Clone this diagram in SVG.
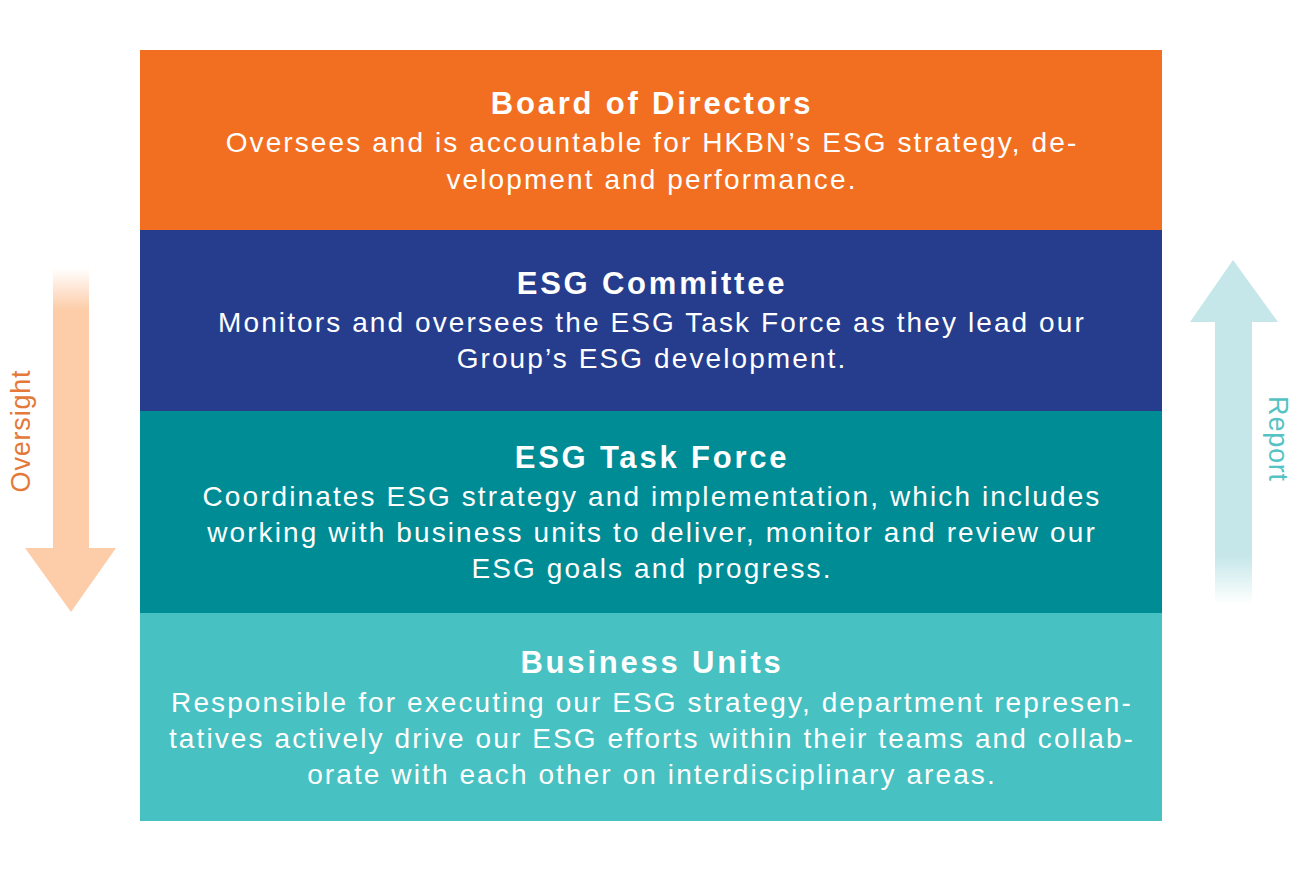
<svg xmlns="http://www.w3.org/2000/svg" width="1300" height="871" viewBox="0 0 1300 871">
<defs>
<linearGradient id="gDown" x1="0" y1="0" x2="0" y2="1" gradientUnits="objectBoundingBox">
<stop offset="0" stop-color="#FDCDAA" stop-opacity="0"/>
<stop offset="0.12" stop-color="#FDCDAA" stop-opacity="1"/>
<stop offset="1" stop-color="#FDCDAA" stop-opacity="1"/>
</linearGradient>
<linearGradient id="gUp" x1="0" y1="1" x2="0" y2="0" gradientUnits="objectBoundingBox">
<stop offset="0" stop-color="#C5E7E9" stop-opacity="0"/>
<stop offset="0.14" stop-color="#C5E7E9" stop-opacity="1"/>
<stop offset="1" stop-color="#C5E7E9" stop-opacity="1"/>
</linearGradient>
<style>
.t{font-family:"Liberation Sans",Arial,sans-serif;font-weight:bold;font-size:31px;letter-spacing:2.8px;fill:#fff;text-anchor:middle}
.b{font-family:"Liberation Sans",Arial,sans-serif;font-size:28px;letter-spacing:2.1px;fill:#fff;text-anchor:middle}
.side{font-family:"Liberation Sans",Arial,sans-serif;font-size:27px;letter-spacing:0.8px;text-anchor:middle}
</style>
</defs>
<rect width="1300" height="871" fill="#fff"/>
<g id="connectors">
<path d="M53,268 H89 V548 H116 L71,612 L25,548 H53 Z" fill="url(#gDown)"/>
<path d="M1233,260 L1278,322 H1252 V604 H1215 V322 H1190 Z" fill="url(#gUp)"/>
<text class="side" fill="#E4793A" transform="translate(30,431) rotate(-90)">Oversight</text>
<text class="side" fill="#55C2C4" transform="translate(1269,439) rotate(90)">Report</text>
</g>
<g id="board">
<rect x="140" y="50" width="1022" height="180" fill="#F26F21"/>
<text class="t" x="652" y="114">Board of Directors</text>
<text class="b" x="652" y="152">Oversees and is accountable for HKBN’s ESG strategy, de-</text>
<text class="b" x="652" y="189">velopment and performance.</text>
</g>
<g id="committee">
<rect x="140" y="230" width="1022" height="181" fill="#253D8C"/>
<text class="t" x="652" y="294">ESG Committee</text>
<text class="b" x="652" y="332">Monitors and oversees the ESG Task Force as they lead our</text>
<text class="b" x="652" y="368">Group’s ESG development.</text>
</g>
<g id="taskforce">
<rect x="140" y="411" width="1022" height="202" fill="#008C95"/>
<text class="t" x="652" y="468">ESG Task Force</text>
<text class="b" x="652" y="506">Coordinates ESG strategy and implementation, which includes</text>
<text class="b" x="652" y="542">working with business units to deliver, monitor and review our</text>
<text class="b" x="652" y="578">ESG goals and progress.</text>
</g>
<g id="units">
<rect x="140" y="613" width="1022" height="208" fill="#47C1C1"/>
<text class="t" x="652" y="673">Business Units</text>
<text class="b" x="652" y="712">Responsible for executing our ESG strategy, department represen-</text>
<text class="b" x="652" y="748">tatives actively drive our ESG efforts within their teams and collab-</text>
<text class="b" x="652" y="784">orate with each other on interdisciplinary areas.</text>
</g>
</svg>
